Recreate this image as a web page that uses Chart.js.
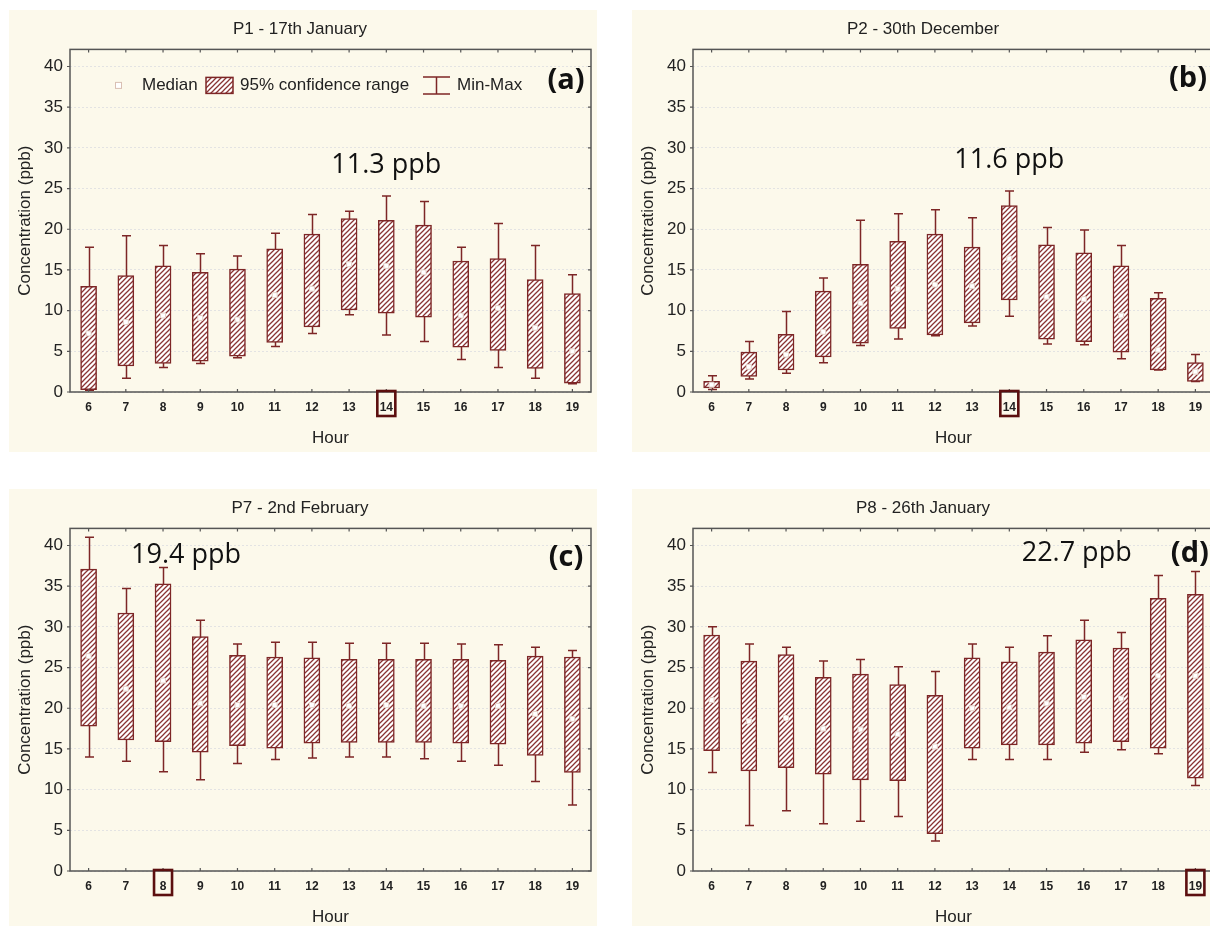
<!DOCTYPE html>
<html>
<head>
<meta charset="utf-8">
<script src="https://cdn.jsdelivr.net/npm/chart.js@4.4.0/dist/chart.umd.min.js"></script>
<style>
  html, body { margin: 0; padding: 0; background: #fff; overflow: hidden; width: 1210px; height: 926px; }
  .panel { position: absolute; width: 588px; height: 442px; background: #fcf9eb; }
</style>
</head>
<body>
<div class="panel" style="left:9px;top:10px"><canvas id="chartA" width="588" height="442"></canvas></div>
<div class="panel" style="left:632px;top:10px"><canvas id="chartB" width="588" height="442"></canvas></div>
<div class="panel" style="left:9px;top:489px"><canvas id="chartC" width="588" height="442"></canvas></div>
<div class="panel" style="left:632px;top:489px"><canvas id="chartD" width="588" height="442"></canvas></div>
<script>
// categories and tick values
var hours = ['6', '7', '8', '9', '10', '11', '12', '13', '14', '15', '16', '17', '18', '19'];
var yTicks = [0, 5, 10, 15, 20, 25, 30, 35, 40];

// P1 - 17th January
var p1Min    = [0.2, 1.7, 3.0, 3.5, 4.2, 5.6, 7.2, 9.5, 7.0, 6.2, 4.0, 3.0, 1.7, 1.0];
var p1Low    = [0.3, 3.2, 3.5, 3.8, 4.4, 6.1, 8.0, 10.1, 9.7, 9.2, 5.5, 5.1, 2.9, 1.1];
var p1Median = [7.2, 8.6, 9.4, 9.1, 8.9, 11.9, 12.7, 15.7, 15.5, 14.7, 9.4, 10.3, 7.9, 5.0];
var p1High   = [13.0, 14.3, 15.5, 14.7, 15.1, 17.6, 19.4, 21.3, 21.1, 20.5, 16.1, 16.4, 13.8, 12.1];
var p1Max    = [17.8, 19.2, 18.0, 17.0, 16.7, 19.5, 21.8, 22.2, 24.1, 23.4, 17.8, 20.7, 18.0, 14.4];

// P2 - 30th December
var p2Min    = [0.3, 1.6, 2.3, 3.6, 5.7, 6.5, 6.9, 8.1, 9.3, 5.9, 5.8, 4.1, 2.7, 1.3];
var p2Low    = [0.5, 1.9, 2.7, 4.3, 6.0, 7.8, 7.0, 8.5, 11.3, 6.5, 6.2, 4.9, 2.7, 1.3];
var p2Median = [0.9, 3.1, 4.6, 7.4, 10.9, 12.7, 13.2, 13.0, 16.4, 11.7, 11.4, 9.4, 5.2, 2.5];
var p2High   = [1.3, 4.9, 7.1, 12.4, 15.7, 18.5, 19.4, 17.8, 22.9, 18.1, 17.1, 15.5, 11.5, 3.6];
var p2Max    = [2.0, 6.2, 9.9, 14.0, 21.1, 21.9, 22.4, 21.4, 24.7, 20.2, 19.9, 18.0, 12.2, 4.6];

// P7 - 2nd February
var p7Min    = [14.0, 13.5, 12.2, 11.2, 13.2, 13.7, 13.9, 14.0, 14.0, 13.8, 13.5, 13.0, 11.0, 8.1];
var p7Low    = [17.8, 16.1, 15.9, 14.6, 15.4, 15.1, 15.7, 15.8, 15.8, 15.8, 15.7, 15.6, 14.2, 12.1];
var p7Median = [26.4, 22.4, 23.4, 20.6, 20.4, 20.4, 20.4, 20.3, 20.4, 20.3, 20.3, 20.3, 19.3, 18.7];
var p7High   = [37.1, 31.7, 35.3, 28.8, 26.5, 26.3, 26.2, 26.0, 26.0, 26.0, 26.0, 25.9, 26.4, 26.3];
var p7Max    = [41.0, 34.7, 37.3, 30.8, 27.9, 28.1, 28.1, 28.0, 28.0, 28.0, 27.9, 27.8, 27.5, 27.1];

// P8 - 26th January
var p8Min    = [12.1, 5.6, 7.4, 5.8, 6.1, 6.7, 3.7, 13.7, 13.7, 13.7, 14.6, 14.9, 14.4, 10.5];
var p8Low    = [14.8, 12.3, 12.7, 11.9, 11.2, 11.1, 4.6, 15.1, 15.5, 15.5, 15.7, 15.9, 15.1, 11.4];
var p8Median = [21.0, 18.4, 18.8, 17.5, 17.4, 16.8, 15.3, 20.0, 20.1, 20.6, 21.4, 21.2, 24.0, 24.0];
var p8High   = [29.0, 25.8, 26.6, 23.8, 24.2, 22.9, 21.6, 26.2, 25.7, 26.9, 28.4, 27.4, 33.5, 34.0];
var p8Max    = [30.0, 27.9, 27.5, 25.8, 26.0, 25.1, 24.5, 27.9, 27.5, 28.9, 30.8, 29.3, 36.3, 36.8];

var RED = '#7d2626';
var INK = '#222';
Chart.defaults.font.family = '"Liberation Sans", Arial, sans-serif';
Chart.defaults.color = INK;

function hatch() {
  var c = document.createElement('canvas');
  c.width = 5; c.height = 5;
  var g = c.getContext('2d');
  g.fillStyle = '#fff';
  g.fillRect(0, 0, 5, 5);
  g.strokeStyle = '#8a3333';
  g.lineWidth = 1.25;
  g.beginPath();
  g.moveTo(0, 5); g.lineTo(5, 0);
  g.moveTo(-1, 1); g.lineTo(1, -1);
  g.moveTo(4, 6); g.lineTo(6, 4);
  g.stroke();
  return g.createPattern(c, 'repeat');
}
var pattern = hatch();

// whiskers, frame, tick marks, notes and the legend
var boxExtras = {
  id: 'boxExtras',
  beforeDatasetsDraw: function (chart, args, opts) {
    var x = chart.scales.x, y = chart.scales.y, ctx = chart.ctx;
    ctx.save();
    ctx.strokeStyle = RED;
    ctx.lineWidth = 1.5;
    opts.min.forEach(function (v, i) {
      var px = Math.round(x.getPixelForValue(i)) + 0.5;
      var y1 = y.getPixelForValue(v), y2 = y.getPixelForValue(opts.max[i]);
      ctx.beginPath();
      ctx.moveTo(px, y1); ctx.lineTo(px, y2);
      ctx.moveTo(px - 4.5, y1); ctx.lineTo(px + 4.5, y1);
      ctx.moveTo(px - 4.5, y2); ctx.lineTo(px + 4.5, y2);
      ctx.stroke();
    });
    ctx.restore();
  },
  afterDraw: function (chart, args, opts) {
    var x = chart.scales.x, y = chart.scales.y, ctx = chart.ctx, a = chart.chartArea;
    ctx.save();
    // frame
    ctx.strokeStyle = '#555';
    ctx.lineWidth = 1.5;
    ctx.strokeRect(a.left, a.top, a.right - a.left, a.bottom - a.top);
    ctx.lineWidth = 1.2;
    ctx.beginPath();
    hours.forEach(function (h, i) {
      var px = x.getPixelForValue(i);
      ctx.moveTo(px, a.top); ctx.lineTo(px, a.top + 3);
      ctx.moveTo(px, a.bottom); ctx.lineTo(px, a.bottom - 3);
    });
    yTicks.forEach(function (v) {
      var py = y.getPixelForValue(v);
      ctx.moveTo(a.left - 3, py); ctx.lineTo(a.left, py);
      ctx.moveTo(a.right - 3, py); ctx.lineTo(a.right, py);
    });
    ctx.stroke();

    // highlighted hour
    var hx = x.getPixelForValue(opts.highlight);
    ctx.strokeStyle = '#5c0f0f';
    ctx.lineWidth = 2.6;
    ctx.strokeRect(hx - 9, a.bottom - 1, 18, 25);

    // notes
    ctx.fillStyle = '#111';
    ctx.textAlign = 'center';
    ctx.textBaseline = 'middle';
    ctx.font = '27px "Open Sans", sans-serif';
    ctx.fillText(opts.note, x.getPixelForValue(opts.noteAt[0]), y.getPixelForValue(opts.noteAt[1]));
    ctx.font = 'bold 29px "Open Sans", sans-serif';
    ctx.fillText(opts.tag, x.getPixelForValue(opts.tagAt[0]), y.getPixelForValue(opts.tagAt[1]));

    if (opts.legend) {
      var L = a.left, ly = a.top + 36;
      ctx.font = '17px "Liberation Sans", Arial, sans-serif';
      ctx.textAlign = 'left';
      // median
      ctx.fillStyle = '#fff';
      ctx.strokeStyle = '#d9bfb3';
      ctx.lineWidth = 1;
      ctx.fillRect(L + 46, ly - 2.5, 5, 5);
      ctx.strokeRect(L + 45.5, ly - 3, 6, 6);
      ctx.fillStyle = INK;
      ctx.fillText('Median', L + 72, ly);
      // confidence range
      ctx.fillStyle = pattern;
      ctx.fillRect(L + 136, ly - 8, 27, 16);
      ctx.strokeStyle = RED;
      ctx.lineWidth = 1.5;
      ctx.strokeRect(L + 136, ly - 8, 27, 16);
      ctx.fillStyle = INK;
      ctx.fillText('95% confidence range', L + 170, ly);
      // min-max
      ctx.beginPath();
      ctx.moveTo(L + 353, ly - 8.5); ctx.lineTo(L + 380, ly - 8.5);
      ctx.moveTo(L + 366.5, ly - 8.5); ctx.lineTo(L + 366.5, ly + 8.5);
      ctx.moveTo(L + 353, ly + 8.5); ctx.lineTo(L + 380, ly + 8.5);
      ctx.stroke();
      ctx.fillText('Min-Max', L + 387, ly);
    }
    ctx.restore();
  }
};

function makeChart(id, title, mn, lo, med, hi, mx, extras) {
  extras.min = mn;
  extras.max = mx;
  return new Chart(document.getElementById(id), {
    type: 'bar',
    data: {
      labels: hours,
      datasets: [
        {
          type: 'line',
          label: 'Median',
          data: med,
          showLine: false,
          pointStyle: 'rect',
          pointRadius: 3.5,
          pointBackgroundColor: '#fff',
          pointBorderColor: '#e6d3ca',
          pointBorderWidth: 1,
          order: 0
        },
        {
          label: '95% confidence range',
          data: lo.map(function (v, i) { return [v, hi[i]]; }),
          backgroundColor: pattern,
          borderColor: RED,
          borderWidth: 1.5,
          borderSkipped: false,
          barThickness: 16,
          order: 1
        }
      ]
    },
    options: {
      responsive: false,
      animation: false,
      events: [],
      layout: { padding: { left: 0, right: 6, top: 0, bottom: 0 } },
      plugins: {
        legend: { display: false },
        tooltip: { enabled: false },
        title: {
          display: true, text: title, color: INK,
          font: { size: 17, weight: 'normal' },
          padding: { top: 9, bottom: 10 }
        },
        boxExtras: extras
      },
      scales: {
        x: {
          grid: { display: false },
          border: { display: false },
          ticks: { color: INK, font: { size: 12, weight: 'bold' }, padding: 0, maxRotation: 0, autoSkip: false },
          title: { display: true, text: 'Hour', color: INK, font: { size: 17 }, padding: { top: 0, bottom: 3 } },
          afterFit: function (s) { s.height = 60; }
        },
        y: {
          min: 0,
          max: 42.1,
          afterBuildTicks: function (s) { s.ticks = yTicks.map(function (v) { return { value: v }; }); },
          grid: { color: '#e3e3e3', drawTicks: false },
          border: { display: false, dash: [2, 2] },
          ticks: { color: INK, font: { size: 17 }, padding: 7 },
          title: { display: true, text: 'Concentration (ppb)', color: INK, font: { size: 17 }, padding: { top: 6, bottom: 0 } },
          afterFit: function (s) { s.width = 61; }
        }
      }
    },
    plugins: [boxExtras]
  });
}

makeChart('chartA', 'P1 - 17th January', p1Min, p1Low, p1Median, p1High, p1Max,
  { highlight: 8, note: '11.3 ppb', noteAt: [8, 27.8], tag: '(a)', tagAt: [12.83, 38.3], legend: true });
makeChart('chartB', 'P2 - 30th December', p2Min, p2Low, p2Median, p2High, p2Max,
  { highlight: 8, note: '11.6 ppb', noteAt: [8, 28.5], tag: '(b)', tagAt: [12.8, 38.5], legend: false });
makeChart('chartC', 'P7 - 2nd February', p7Min, p7Low, p7Median, p7High, p7Max,
  { highlight: 2, note: '19.4 ppb', noteAt: [2.62, 38.8], tag: '(c)', tagAt: [12.83, 38.5], legend: false });
makeChart('chartD', 'P8 - 26th January', p8Min, p8Low, p8Median, p8High, p8Max,
  { highlight: 13, note: '22.7 ppb', noteAt: [9.81, 39.0], tag: '(d)', tagAt: [12.85, 39.0], legend: false });
</script>
</body>
</html>
